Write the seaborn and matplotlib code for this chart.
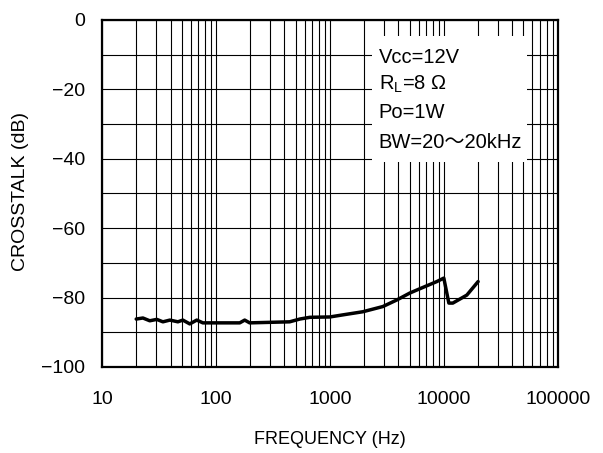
import numpy as np
import pandas as pd
import matplotlib
matplotlib.use("Agg")
import matplotlib.pyplot as plt
import matplotlib.ticker as mticker
from matplotlib.patches import Rectangle
import seaborn as sns

# --- data ---
freq_hz = [20, 22.9, 26.3, 30.3, 34.3, 39.5, 46.4, 51.3, 59, 68, 76.9,
           162, 179, 198, 444, 545, 667, 1000, 1300, 1946, 2917, 3870,
           5035, 6546, 8684, 10000, 11070, 12000, 15920, 20000]
crosstalk_db = [-86.2, -85.9, -86.7, -86.3, -87.0, -86.5, -87.0, -86.5, -87.6, -86.5, -87.3,
                -87.3, -86.5, -87.3, -87.0, -86.2, -85.7, -85.6, -85.0, -84.1, -82.6, -80.7,
                -78.7, -77.1, -75.4, -74.4, -81.6, -81.6, -79.3, -75.4]

x_ticks = [10, 100, 1000, 10000, 100000]
y_ticks = [0, -20, -40, -60, -80, -100]
conditions = ["Vcc=12V", "R$_\\mathregular{L}$=8 Ω", "Po=1W", "BW=20〜20kHz"]

sns.set_style("white")
plt.rcParams['font.family'] = ['Liberation Sans', 'Noto Sans CJK JP', 'DejaVu Sans']
plt.rcParams['mathtext.fontset'] = 'custom'
plt.rcParams['mathtext.rm'] = 'Liberation Sans'
plt.rcParams['text.color'] = 'black'
plt.rcParams['axes.labelcolor'] = 'black'

df = pd.DataFrame({"freq": freq_hz, "xt": crosstalk_db})

fig = plt.figure(figsize=(6.03, 4.53), dpi=100)
ax = fig.add_axes([0.169, 0.190, 0.756, 0.766])

sns.lineplot(data=df, x="freq", y="xt", color="black", linewidth=2.5, ax=ax, zorder=5)

ax.set_xscale("log")
ax.set_xlim(10, 100000)
ax.set_ylim(-100, 0)

# grid: decades + minor, every 10 dB
ax.xaxis.set_major_locator(mticker.FixedLocator(x_ticks))
ax.xaxis.set_minor_locator(mticker.LogLocator(base=10, subs=np.arange(2, 10)))
ax.set_xticklabels([str(t) for t in x_ticks])
ax.xaxis.set_minor_formatter(mticker.NullFormatter())
ax.yaxis.set_major_locator(mticker.FixedLocator(y_ticks))
ax.yaxis.set_minor_locator(mticker.MultipleLocator(10))
ax.grid(True, which="both", color="black", linewidth=0.8)
ax.set_axisbelow(True)
ax.tick_params(axis="both", which="both", length=0, labelsize=14, colors="black")
ax.tick_params(axis="x", pad=17)
ax.tick_params(axis="y", pad=12)

for s in ax.spines.values():
    s.set_color("black")
    s.set_linewidth(1.6)

# condition box (white background hiding the grid)
ax.add_patch(Rectangle((0.592, 0.591), 0.340, 0.363, transform=ax.transAxes,
                       facecolor="white", edgecolor="none", zorder=3))
for i, t in enumerate(conditions):
    ax.text(0.607, [0.893, 0.813, 0.732, 0.646][i], t, transform=ax.transAxes,
            fontsize=14.5, va="center", ha="left", color="black", zorder=4)

ax.set_xlabel("FREQUENCY (Hz)", fontsize=13, color="black")
ax.set_ylabel("CROSSTALK (dB)", fontsize=14, color="black")
ax.xaxis.set_label_coords(0.5, -0.185)
ax.yaxis.set_label_coords(-0.160, 0.505)

fig.savefig("out.png", dpi=100)
